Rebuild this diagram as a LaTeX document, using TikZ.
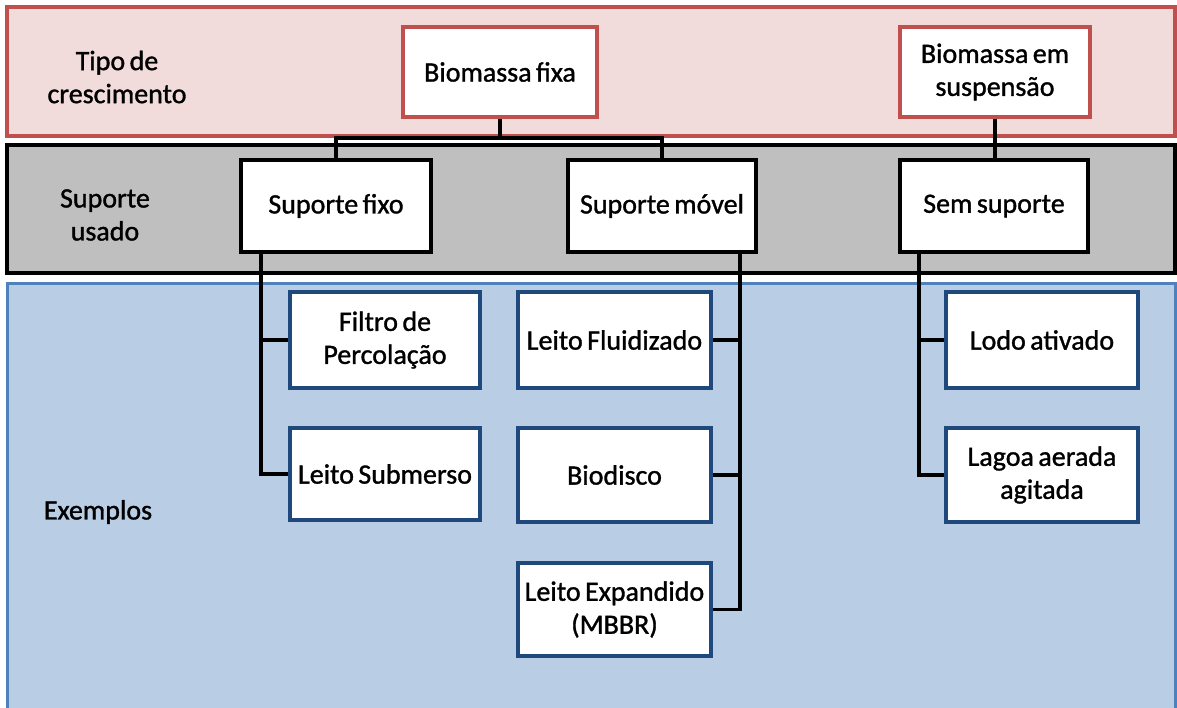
\documentclass[tikz,border=0pt]{standalone}
\usepackage{fontspec}
\setmainfont[FakeBold=1.2,WordSpace=0.7]{Carlito}
\definecolor{redfill}{HTML}{F2DCDB}
\definecolor{redline}{HTML}{C0504D}
\definecolor{grayfill}{HTML}{BFBFBF}
\definecolor{bluefill}{HTML}{B9CDE5}
\definecolor{blueline}{HTML}{4F81BD}
\definecolor{boxblue}{HTML}{1F497D}
\begin{document}
\begin{tikzpicture}[x=1pt,y=-1pt,
  font=\fontsize{28}{33}\selectfont,
  band/.style={line width=3pt},
  boxbase/.style={draw,fill=white,line width=3.5pt,inner sep=0pt,align=center},
  redbox/.style={boxbase,draw=redline},
  blackbox/.style={boxbase,draw=black},
  bluebox/.style={boxbase,draw=boxblue},
  rowlabel/.style={align=center,inner sep=0pt},
  conn/.style={draw=black,line width=3.5pt}]
\useasboundingbox (0,0) rectangle (1177,708);
\begin{scope}
\clip (0,0) rectangle (1177,708);
% three horizontal bands
\draw[band,line width=3.5pt,draw=redline,fill=redfill] (7,7) rectangle (1175,136);
\draw[band,line width=4pt,draw=black,fill=grayfill] (7,145) rectangle (1175,273);
\draw[band,draw=blueline,fill=bluefill] (7,284) rectangle (1175,730);
\end{scope}

% row labels
\node[rowlabel] (lt) at (117,77) {Tipo de\\crescimento};
\node[rowlabel] (ls) at (105,215) {Suporte\\usado};
\node[rowlabel] (le) at (98,512) {Exemplos};

% growth type
\node[redbox,minimum width=194,minimum height=90] (bfixa) at (500,72) {Biomassa fixa};
\node[redbox,minimum width=190,minimum height=90] (bsusp) at (995,72) {Biomassa em\\suspensão};

% support used
\node[blackbox,minimum width=190,minimum height=92] (sfixo) at (336,206) {Suporte fixo};
\node[blackbox,minimum width=188,minimum height=92] (smovel) at (662,206) {Suporte móvel};
\node[blackbox,minimum width=188,minimum height=92] (ssem) at (994,206) {Sem suporte};

% examples
\node[bluebox,minimum width=190,minimum height=96] (filtro) at (385,340) {Filtro de\\Percolação};
\node[bluebox,minimum width=190,minimum height=92] (lsub) at (385,474) {Leito Submerso};
\node[bluebox,minimum width=193,minimum height=96] (lflu) at (614.5,340) {Leito Fluidizado};
\node[bluebox,minimum width=193,minimum height=94] (bdisco) at (614.5,475) {Biodisco};
\node[bluebox,minimum width=193,minimum height=93] (lexp) at (614.5,609.5) {Leito Expandido\\(MBBR)};
\node[bluebox,minimum width=192,minimum height=96] (lodo) at (1042,340) {Lodo ativado};
\node[bluebox,minimum width=192,minimum height=94] (lagoa) at (1042,475) {Lagoa aerada\\agitada};

% connectors between levels
\draw[conn] (bfixa.south) -- (bfixa.south |- 0,140);
\draw[conn] (sfixo.north) -- ++(0,-20) -| (smovel.north);
\draw[conn] (bsusp.south) -- (bsusp.south |- ssem.north);

\draw[conn] (sfixo.south -| 261,0) |- (filtro.west);
\draw[conn] (sfixo.south -| 261,0) |- (lsub.west);

\draw[conn] (smovel.south -| 740,0) |- (lflu.east);
\draw[conn] (smovel.south -| 740,0) |- (bdisco.east);
\draw[conn] (smovel.south -| 740,0) |- (lexp.east);

\draw[conn] (ssem.south -| 919,0) |- (lodo.west);
\draw[conn] (ssem.south -| 919,0) |- (lagoa.west);
\end{tikzpicture}
\end{document}
